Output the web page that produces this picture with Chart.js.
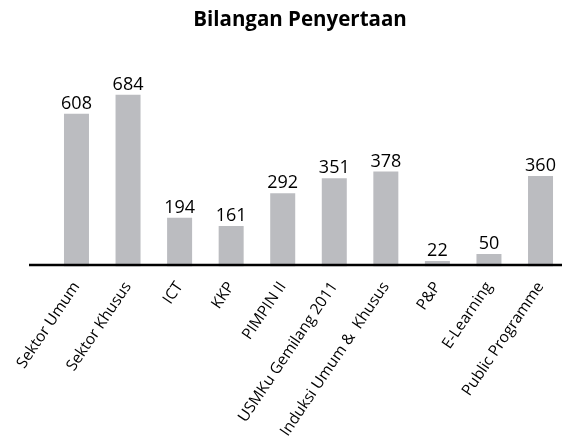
<!DOCTYPE html>
<html>
<head>
<meta charset="utf-8">
<script src="https://cdn.jsdelivr.net/npm/chart.js@4/dist/chart.umd.min.js"></script>
<style>
  html, body { margin: 0; padding: 0; background: #fff; overflow: hidden; }
  #wrap { width: 562px; height: 441px; overflow: hidden; }
</style>
</head>
<body>
<div id="wrap"><canvas id="myChart" width="600" height="441"></canvas></div>
<script>
// 데이터
const categories = ['Sektor Umum', 'Sektor Khusus', 'ICT', 'KKP', 'PIMPIN II',
  'USMKu Gemilang 2011', 'Induksi Umum &  Khusus', 'P&P', 'E-Learning', 'Public Programme'];
const penyertaan = [608, 684, 194, 161, 292, 351, 378, 22, 50, 360];
const chartTitle = 'Bilangan Penyertaan';

const fontFamily = '"Open Sans", Lato, sans-serif';

// 막대 위 숫자
const valueLabels = {
  id: 'valueLabels',
  afterDatasetsDraw(chart) {
    const ctx = chart.ctx;
    const meta = chart.getDatasetMeta(0);
    ctx.save();
    ctx.font = '18px ' + fontFamily;
    ctx.fillStyle = '#000';
    ctx.textAlign = 'center';
    ctx.textBaseline = 'alphabetic';
    meta.data.forEach(function (bar, i) {
      ctx.fillText(String(penyertaan[i]), bar.x, bar.y - 5);
    });
    ctx.restore();
  }
};

// 아래 굵은 축선
const baseLine = {
  id: 'baseLine',
  afterDatasetsDraw(chart) {
    const ctx = chart.ctx;
    const y0 = chart.scales.y.getPixelForValue(0) - 1.5;
    ctx.save();
    ctx.strokeStyle = '#000';
    ctx.lineWidth = 2.5;
    ctx.beginPath();
    ctx.moveTo(chart.chartArea.left - 21.7, y0);
    ctx.lineTo(chart.width, y0);
    ctx.stroke();
    ctx.restore();
  }
};

const ctx = document.getElementById('myChart').getContext('2d');
const newChart = new Chart(ctx, {
  type: 'bar',
  data: {
    labels: categories,
    datasets: [{
      data: penyertaan,
      backgroundColor: '#bbbcc0',
      borderWidth: 0,
      categoryPercentage: 1,
      barPercentage: 0.485
    }]
  },
  options: {
    responsive: false,
    animation: false,
    layout: { padding: 0 },
    plugins: {
      legend: { display: false },
      tooltip: { enabled: false },
      title: {
        display: true,
        text: chartTitle,
        color: '#000',
        font: { family: fontFamily, size: 20.5, weight: 'bold', lineHeight: 1.2 },
        padding: { top: 8, bottom: 33 }
      }
    },
    scales: {
      x: {
        grid: { display: false, drawTicks: false },
        border: { display: false },
        ticks: {
          autoSkip: false,
          minRotation: 56,
          maxRotation: 56,
          padding: 12,
          color: '#000',
          font: { family: fontFamily, size: 15.5 }
        },
        afterFit(scale) { scale.height = 174.5; }
      },
      y: {
        min: 0,
        max: 800,
        grid: { display: false },
        border: { display: false },
        ticks: { display: false },
        afterFit(scale) { scale.width = 50.7; }
      },
      y2: {
        position: 'right',
        grid: { display: false },
        border: { display: false },
        ticks: { display: false },
        afterFit(scale) { scale.width = 33.7; }
      }
    }
  },
  plugins: [valueLabels, baseLine]
});
</script>
</body>
</html>
